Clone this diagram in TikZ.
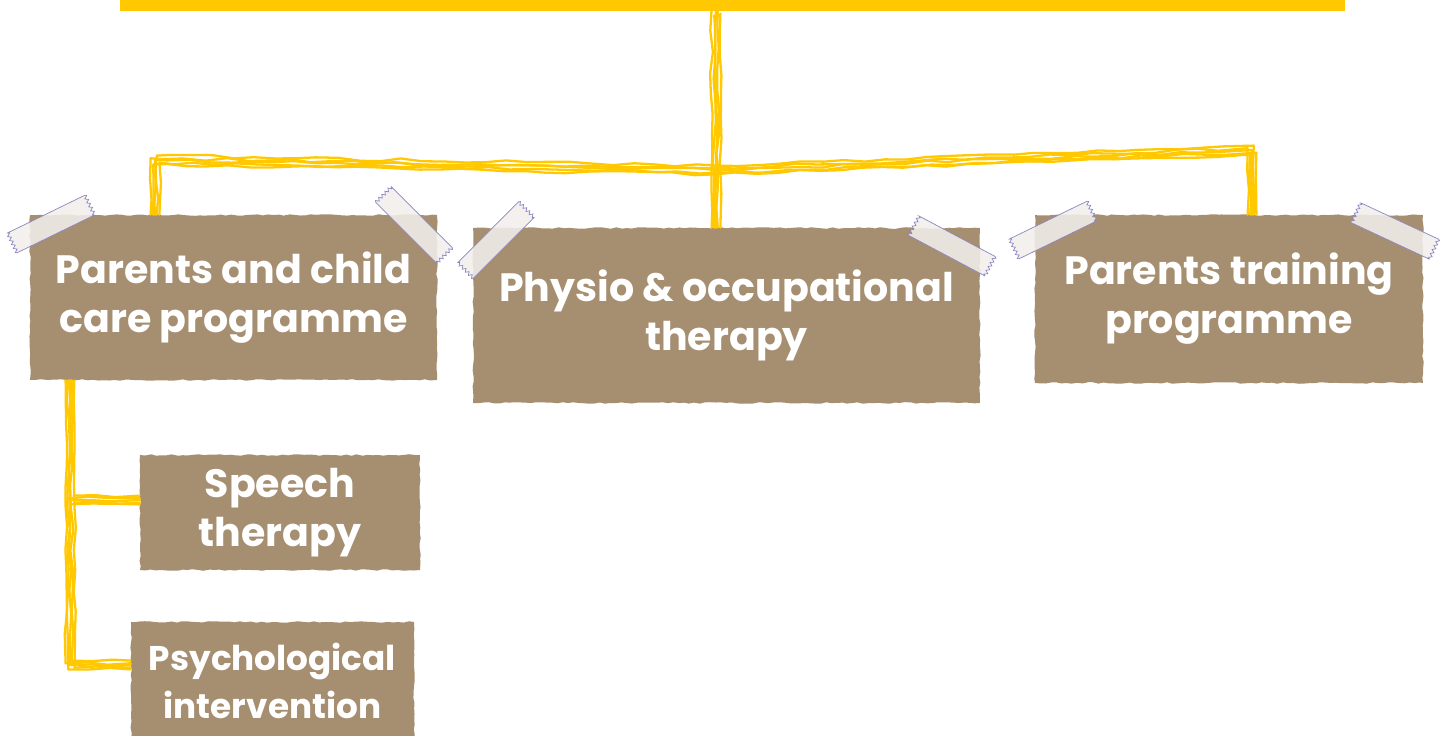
\documentclass[tikz,border=0pt]{standalone}
\usepackage{fontspec}
\newfontfamily\boxfont{Poppins}
\usetikzlibrary{decorations.pathmorphing}

\definecolor{cardboard}{HTML}{A68E70}
\definecolor{linegold}{HTML}{FFC800}
\definecolor{tapefill}{HTML}{F1EEEA}
\definecolor{tapeedge}{HTML}{8C86C2}

\tikzset{
  paper/.style={fill=cardboard, inner sep=0pt, align=center, text=white,
    font=\boxfont\bfseries\fontsize{22.5}{28}\selectfont,
    decorate, decoration={random steps, segment length=3pt, amplitude=0.45pt}},
  scribble/.style={draw=linegold, line width=1.3pt, line join=round, line cap=round,
    decorate, decoration={random steps, segment length=12pt, amplitude=0.9pt}},
  tape/.pic={
    \path[fill=tapefill, fill opacity=0.88, draw=tapeedge, line width=0.4pt]
      (-\tapelen,-11) -- (\tapelen,-11)
      decorate[decoration={zigzag, segment length=2.5pt, amplitude=0.9pt}]{-- (\tapelen,11)}
      -- (-\tapelen,11)
      decorate[decoration={zigzag, segment length=2.5pt, amplitude=0.9pt}]{-- (-\tapelen,-11)}
      -- cycle;
  }
}
\def\tapelen{43}

\begin{document}
\begin{tikzpicture}[x=0.02cm, y=-0.02cm]
  \useasboundingbox (0,0) rectangle (1449,736);

  % yellow bar at the top
  \node[fill=linegold, inner sep=0pt, minimum width=24.5cm, minimum height=0.36cm,
        anchor=south west] (top) at (120,11) {};

  % cards
  \node[paper, minimum width=8.14cm, minimum height=3.3cm] (care) at (233.5,297.5)
    {Parents and child\\care programme};
  \node[paper, minimum width=10.14cm, minimum height=3.5cm] (physio) at (726.5,315.5)
    {Physio \& occupational\\therapy};
  \node[paper, minimum width=7.76cm, minimum height=3.36cm] (training) at (1229,299)
    {Parents training\\programme};
  \node[paper, minimum width=5.6cm, minimum height=2.3cm] (speech) at (280,512.5)
    {Speech\\therapy};
  \node[paper, font=\boxfont\bfseries\fontsize{19.5}{27}\selectfont,
        minimum width=5.66cm, minimum height=2.36cm] (psych) at (272.5,681)
    {Psychological\\intervention};

  % tapes
  \pic[rotate=26] at (51,224) {tape};
  \pic[rotate=-45] at (414,225) {tape};
  \pic[rotate=45] at (496,240) {tape};
  \pic[rotate=-28] at (952,246) {tape};
  \pic[rotate=26] at (1053,230) {tape};
  \pic[rotate=-25] at (1395,231) {tape};

  % connectors
  \coordinate (hub) at (716,170);
  \coordinate (lcorner) at (155,160);
  \coordinate (rcorner) at (1252,150);
  \coordinate (pcorner) at (70,665);
  \coordinate (sjoin) at (72,500);
  \coordinate (hubtop) at (top.south -| hub);
  \coordinate (hubend) at (physio.north -| hub);
  \coordinate (lend) at (care.north -| lcorner);
  \coordinate (rend) at (training.north -| rcorner);
  \coordinate (ptop) at (care.south -| pcorner);
  \coordinate (pend) at (psych.west |- pcorner);
  \coordinate (send) at (speech.west |- sjoin);
  \foreach \dx/\dy in {-2.5/1, 0/0, 2.5/-1.5, 1/2.5, -1/-2.5} {
    \draw[scribble] ([shift={(\dx pt,\dy pt)}]hubtop) -- ([shift={(\dx pt,\dy pt)}]hub)
      -- ([shift={(\dx pt,0)}]hubend);
    \draw[scribble] ([shift={(\dx pt,\dy pt)}]hub) -- ([shift={(\dx pt,\dy pt)}]lcorner)
      -- ([shift={(\dx pt,0)}]lend);
    \draw[scribble] ([shift={(\dx pt,\dy pt)}]hub) -- ([shift={(\dx pt,\dy pt)}]rcorner)
      -- ([shift={(\dx pt,0)}]rend);
    \draw[scribble] ([shift={(\dx pt,0)}]ptop) -- ([shift={(\dx pt,\dy pt)}]pcorner)
      -- ([shift={(0,\dy pt)}]pend);
    \draw[scribble] ([shift={(\dx pt,\dy pt)}]sjoin) -- ([shift={(0,\dy pt)}]send);
  }
\end{tikzpicture}
\end{document}
